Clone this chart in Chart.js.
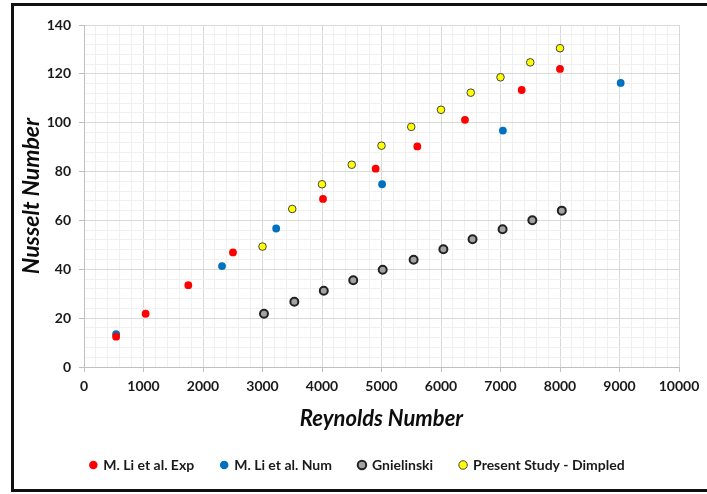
<!DOCTYPE html>
<html>
<head>
<meta charset="utf-8">
<script src="https://cdn.jsdelivr.net/npm/chart.js@4"></script>
<style>
  html, body { margin: 0; padding: 0; background: #ffffff; overflow: hidden; }
  #wrap { position: relative; width: 707px; height: 494px; overflow: hidden; }
  #frame {
    position: absolute; left: 11px; top: 3px; width: 800px; height: 489px;
    border: 3px solid #111; border-right: none; box-sizing: border-box; pointer-events: none;
  }
  canvas { position: absolute; left: 0; top: 0; }
</style>
</head>
<body>
<div id="wrap">
  <canvas id="myChart" width="707" height="494"></canvas>
  <div id="frame"></div>
</div>
<script>
// --- Data ---
const expRe = [540, 1036, 1753, 2504, 4017, 4902, 5602, 6403, 7356, 8000];
const expNu = [12.4, 21.8, 33.5, 46.9, 68.8, 81.2, 90.3, 101.2, 113.4, 122.0];

const numRe = [540, 2320, 3230, 5010, 7040, 9020];
const numNu = [13.4, 41.3, 56.7, 74.8, 96.8, 116.3];

const gnRe = [3025, 3535, 4030, 4525, 5020, 5540, 6040, 6530, 7035, 7535, 8030];
const gnNu = [21.8, 26.7, 31.2, 35.5, 39.8, 43.9, 48.2, 52.3, 56.4, 60.1, 64.0];

const dimRe = [3000, 3500, 4000, 4500, 5000, 5500, 6000, 6500, 7000, 7500, 8000];
const dimNu = [49.3, 64.7, 74.8, 82.8, 90.6, 98.3, 105.3, 112.3, 118.6, 124.7, 130.5];

const xTicks = [0, 1000, 2000, 3000, 4000, 5000, 6000, 7000, 8000, 9000, 10000];
const yTicks = [0, 20, 40, 60, 80, 100, 120, 140];

const toPoints = (xs, ys) => xs.map((x, i) => ({ x: x, y: ys[i] }));

const FONT = "Lato, 'Open Sans', sans-serif";

// --- Chart ---
const ctx = document.getElementById("myChart").getContext("2d");

function isMajor(list, v) {
  return list.some((t) => Math.abs(t - v) < 1e-6);
}

// nudge the legend a little to the right, like the original
const legendShift = {
  id: "legendShift",
  afterLayout(chart) {
    if (chart.legend) {
      chart.legend.left += 11;
      chart.legend.right += 11;
    }
  },
};

new Chart(ctx, {
  type: "scatter",
  data: {
    datasets: [
      {
        label: "M. Li et al. Exp",
        data: toPoints(expRe, expNu),
        backgroundColor: "#ff0000",
        borderColor: "#ff0000",
        borderWidth: 0,
        pointRadius: 3.9,
      },
      {
        label: "M. Li et al. Num",
        data: toPoints(numRe, numNu),
        backgroundColor: "#0070c0",
        borderColor: "#0070c0",
        borderWidth: 0,
        pointRadius: 3.9,
      },
      {
        label: "Gnielinski",
        data: toPoints(gnRe, gnNu),
        backgroundColor: "#a3a3a3",
        borderColor: "#222222",
        borderWidth: 2,
        pointRadius: 4,
      },
      {
        label: "Present Study - Dimpled",
        data: toPoints(dimRe, dimNu),
        backgroundColor: "#ffff00",
        borderColor: "#444444",
        borderWidth: 1,
        pointRadius: 3.8,
      },
    ],
  },
  plugins: [legendShift],
  options: {
    responsive: false,
    animation: false,
    layout: { padding: { left: 14, right: 28, top: 25, bottom: 12 } },
    plugins: {
      tooltip: { enabled: false },
      legend: {
        position: "bottom",
        labels: {
          usePointStyle: true,
          pointStyle: "circle",
          boxWidth: 6,
          boxHeight: 6,
          padding: 27,
          color: "#1a1a1a",
          font: { family: FONT, size: 14, weight: "bold" },
        },
      },
    },
    scales: {
      x: {
        type: "linear",
        min: 0,
        max: 10000,
        afterBuildTicks: (axis) => {
          const t = [];
          for (let v = 0; v <= 10000; v += 200) t.push({ value: v });
          axis.ticks = t;
        },
        afterFit: (axis) => { axis.height = 64; },
        ticks: {
          autoSkip: false,
          maxRotation: 0,
          color: "#1a1a1a",
          font: { family: FONT, size: 14, weight: "bold" },
          padding: 6,
          callback: (v) => (isMajor(xTicks, v) ? String(v) : ""),
        },
        grid: {
          color: (c) => (isMajor(xTicks, c.tick.value) ? "#d9d9d9" : "#f0f0f0"),
          tickColor: (c) => (isMajor(xTicks, c.tick.value) ? "#bfbfbf" : "rgba(0,0,0,0)"),
          tickLength: 5,
        },
        border: { color: "#bfbfbf" },
        title: {
          display: true,
          text: "Reynolds Number",
          color: "#0d0d0d",
          font: { family: FONT, size: 22, weight: "bold", style: "italic" },
          padding: { top: 6, bottom: -1 },
        },
      },
      y: {
        type: "linear",
        min: 0,
        max: 140,
        afterBuildTicks: (axis) => {
          const t = [];
          for (let v = 0; v <= 140; v += 4) t.push({ value: v });
          axis.ticks = t;
        },
        afterFit: (axis) => { axis.width = 70; },
        ticks: {
          autoSkip: false,
          color: "#1a1a1a",
          font: { family: FONT, size: 14, weight: "bold" },
          padding: 8,
          callback: (v) => (isMajor(yTicks, v) ? String(v) : ""),
        },
        grid: {
          color: (c) => (isMajor(yTicks, c.tick.value) ? "#d9d9d9" : "#f0f0f0"),
          tickColor: (c) => (isMajor(yTicks, c.tick.value) ? "#bfbfbf" : "rgba(0,0,0,0)"),
          tickLength: 5,
        },
        border: { color: "#bfbfbf" },
        title: {
          display: true,
          text: "Nusselt Number",
          color: "#0d0d0d",
          font: { family: FONT, size: 23, weight: "bold", style: "italic" },
          padding: { bottom: 2 },
        },
      },
    },
  },
});
</script>
</body>
</html>
